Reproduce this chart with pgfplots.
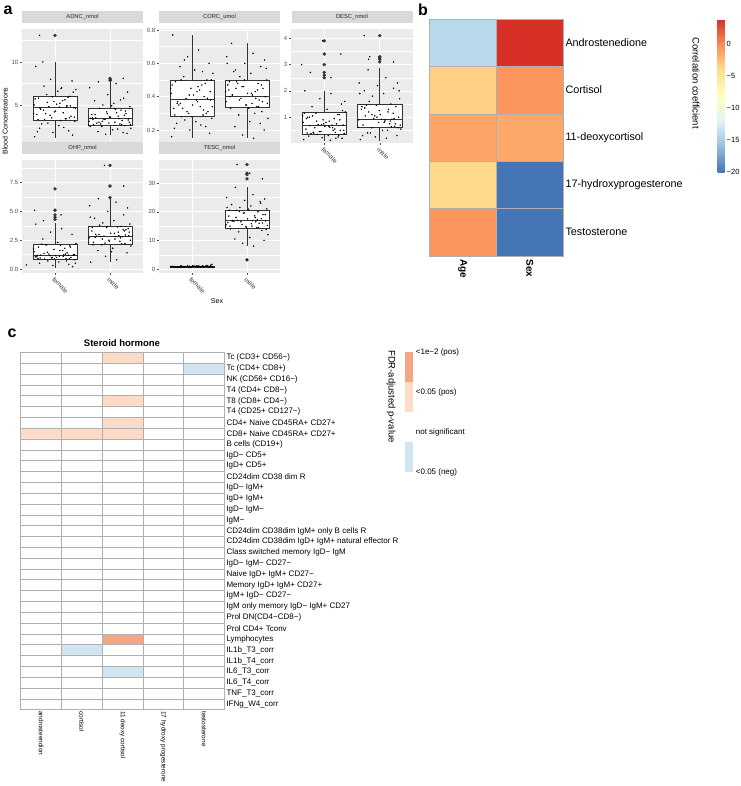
\documentclass[border=0pt]{standalone}
\usepackage{fontspec}
\setmainfont{Liberation Sans}
\usepackage{pgfplots}
\pgfplotsset{compat=1.18}
\usepgfplotslibrary{statistics}

\definecolor{panelbg}{HTML}{EBEBEB}
\definecolor{stripbg}{HTML}{D9D9D9}
\definecolor{tickgrey}{HTML}{4D4D4D}
\definecolor{boxline}{HTML}{333333}
\definecolor{cellline}{HTML}{B0B0B0}
\definecolor{posstrong}{HTML}{F4A582}
\definecolor{posweak}{HTML}{FDDBC7}
\definecolor{negweak}{HTML}{D1E5F0}

\newcommand{\fs}[1]{\fontsize{#1}{#1}\selectfont}

\pgfplotsset{
  facet/.style={
    anchor=north west, scale only axis, width=121pt, height=114pt,
    axis background/.style={fill=panelbg},
    axis line style={draw=none},
    xmin=0.4, xmax=2.6, xtick={1,2}, xticklabels={female,male},
    xtick pos=bottom, ytick pos=left,
    xmajorgrids, ymajorgrids, yminorgrids,
    major grid style={white, line width=0.7pt},
    minor grid style={white, line width=0.35pt},
    tick align=outside, major tick length=2pt, minor tick length=0pt,
    tick style={tickgrey, line width=0.4pt},
    /pgf/number format/assume math mode=true,
    yticklabel style={font=\fs{6}, text=tickgrey, inner sep=1.5pt},
    xticklabel style={font=\fs{6.5}, text=black!75, rotate=-45, anchor=north west, inner sep=1pt},
    title style={at={(0.5,1)}, anchor=south, fill=stripbg, minimum width=121pt,
      minimum height=11.5pt, inner sep=0pt, font=\fs{5.8}, text=black!85},
    boxplot/draw direction=y,
    boxplot/box extend=0.8,
    boxplot/whisker extend=0,
    boxplot/every box/.style={draw=boxline, fill=white, line width=0.5pt},
    boxplot/every whisker/.style={draw=boxline, line width=0.5pt},
    boxplot/every median/.style={draw=boxline, line width=1pt},
  },
  nox/.style={xmajorticks=false, xticklabels={}},
  box/.style={boxline, mark=*, mark size=1.5pt, mark options={fill=boxline, draw=boxline, solid}},
  jit/.style={only marks, mark=*, mark size=0.5pt, black},
}

\begin{document}
\begin{tikzpicture}
\useasboundingbox[fill=white] (0,0) rectangle (740pt,-786pt);

% ---------------- panel a ----------------
\node[font=\bfseries\fs{16}] at (8pt,-10pt) {a};
\node[rotate=90, font=\fs{7}] at (5pt,-121pt) {Blood Concentrations};
\node[font=\fs{7}] at (217pt,-301pt) {Sex};

\begin{axis}[facet, nox, at={(22pt,-29pt)}, title={ADNC\_nmol},
  ymin=0.58, ymax=13.84, ytick={5,10}, minor ytick={2.5,7.5,12.5}]
\addplot[box, boxplot prepared={draw position=1, lower whisker=1.15, lower quartile=3.26,
  median=4.73, upper quartile=5.97, upper whisker=10}] table[row sep=\\, y index=0] {13.1\\};
\addplot[box, boxplot prepared={draw position=2, lower whisker=1.5, lower quartile=2.64,
  median=3.41, upper quartile=4.65, upper whisker=7.75}] table[row sep=\\, y index=0] {7.9\\8.1\\};
\addplot[jit] coordinates {
(0.65,9.5) (1.12,7.0) (0.92,8.0) (1.31,7.8) (0.78,10.0) (1.05,6.6) (1.38,6.8) (0.85,6.2) (1.27,6.0)
(0.70,5.8) (1.18,5.6) (0.98,5.4) (1.09,5.2) (0.62,5.0) (1.22,4.9) (0.89,4.8) (1.34,4.7) (0.74,4.5)
(1.01,4.3) (1.15,4.1) (0.67,3.9) (1.29,3.7) (0.94,3.5) (1.20,3.4) (0.81,3.3) (1.36,3.1) (0.87,2.9)
(1.07,2.6) (0.72,2.3) (1.25,2.0) (0.96,1.8) (1.32,1.5) (0.63,1.3) (1.11,6.9) (0.79,4.4) (0.72,13.1)
(0.69,3.3) (1.24,5.9) (0.83,4.0) (1.03,5.1) (1.35,3.6) (0.73,4.6) (1.14,5.5) (0.91,3.8) (1.28,4.9)
(0.64,5.7) (1.19,3.4) (0.99,4.2) (1.33,6.5) (0.76,2.8) (1.08,4.75) (0.86,5.3) (1.26,3.5) (0.61,4.0)
(1.16,2.4) (0.95,5.95) (1.37,4.6) (0.80,7.2) (1.10,3.2) (0.68,1.9) (1.21,4.85)
(1.79,7.7) (2.11,7.5) (1.63,7.0) (2.32,6.5) (1.96,6.2) (2.25,5.8) (1.72,5.5) (2.07,5.2) (1.87,5.0)
(2.36,4.8) (1.81,4.6) (2.20,4.4) (1.94,4.2) (2.29,4.0) (1.67,3.9) (2.15,3.7) (2.01,3.6) (1.74,3.5)
(2.34,3.4) (1.89,3.3) (2.22,3.2) (1.62,3.1) (2.09,3.0) (1.98,2.9) (2.18,2.8) (1.70,2.7) (2.27,2.6)
(1.85,2.5) (2.38,2.3) (2.05,2.1) (1.78,1.9) (2.31,1.7) (1.92,1.6) (2.12,4.1) (1.65,3.45) (2.24,8.1) (2.02,7.9)
(2.21,2.7) (1.68,3.5) (2.10,4.5) (1.80,3.0) (2.37,2.75) (1.95,4.0) (2.16,3.4) (1.61,2.65) (2.26,3.8)
(1.86,3.1) (2.08,4.6) (1.76,2.9) (2.33,3.25) (1.99,3.6) (2.19,5.6) (1.64,2.5) (2.28,4.3) (1.91,3.35)
(2.14,2.2) (1.73,3.9) (2.35,3.0) (2.03,4.9) (1.83,2.8) (2.24,1.8) (1.69,3.3)
};
\end{axis}

\begin{axis}[facet, nox, at={(159pt,-29pt)}, title={CORC\_umol},
  ymin=0.122, ymax=0.806, ytick={0.2,0.4,0.6,0.8}, yticklabels={0.2,0.4,0.6,0.8},
  minor ytick={0.3,0.5,0.7}]
\addplot[box, boxplot prepared={draw position=1, lower whisker=0.15, lower quartile=0.28,
  median=0.385, upper quartile=0.5, upper whisker=0.77}] coordinates {};
\addplot[box, boxplot prepared={draw position=2, lower whisker=0.15, lower quartile=0.335,
  median=0.40, upper quartile=0.5, upper whisker=0.72}] coordinates {};
\addplot[jit] coordinates {
(0.65,0.77) (1.12,0.68) (0.92,0.64) (1.31,0.60) (0.78,0.58) (1.05,0.56) (1.38,0.54) (0.85,0.52)
(1.27,0.50) (0.70,0.49) (1.18,0.47) (0.98,0.45) (1.09,0.43) (0.62,0.42) (1.22,0.40) (0.89,0.39)
(1.34,0.38) (0.74,0.37) (1.01,0.35) (1.15,0.34) (0.67,0.33) (1.29,0.31) (0.94,0.30) (1.20,0.29)
(0.81,0.28) (1.36,0.27) (0.87,0.26) (1.07,0.25) (0.72,0.24) (1.25,0.22) (0.96,0.20) (1.32,0.18)
(0.63,0.16) (1.11,0.46) (0.79,0.36)
(0.69,0.29) (1.24,0.48) (0.83,0.33) (1.03,0.41) (1.35,0.50) (0.73,0.36) (1.14,0.44) (0.91,0.31)
(1.28,0.39) (0.64,0.47) (1.19,0.55) (0.99,0.28) (1.33,0.43) (0.76,0.35) (1.08,0.38) (0.86,0.62)
(1.26,0.30) (0.61,0.45) (1.16,0.23) (0.95,0.41) (1.37,0.34) (0.80,0.50) (1.10,0.37) (0.68,0.21) (1.21,0.32)
(1.79,0.56) (2.11,0.66) (1.63,0.64) (2.32,0.62) (1.96,0.60) (2.25,0.58) (1.72,0.72) (2.07,0.54)
(1.87,0.52) (2.36,0.50) (1.81,0.49) (2.20,0.48) (1.94,0.46) (2.29,0.45) (1.67,0.44) (2.15,0.43)
(2.01,0.42) (1.74,0.41) (2.34,0.40) (1.89,0.39) (2.22,0.38) (1.62,0.37) (2.09,0.36) (1.98,0.35)
(2.18,0.34) (1.70,0.33) (2.27,0.31) (1.85,0.29) (2.38,0.27) (2.05,0.25) (1.78,0.22) (2.31,0.20)
(1.92,0.17) (2.12,0.15) (1.65,0.47)
(2.21,0.34) (1.68,0.49) (2.10,0.41) (1.80,0.45) (2.37,0.36) (1.95,0.50) (2.16,0.39) (1.61,0.43)
(2.26,0.47) (1.86,0.38) (2.08,0.42) (1.76,0.55) (2.33,0.40) (1.99,0.35) (2.19,0.44) (1.64,0.60)
(2.28,0.37) (1.91,0.46) (2.14,0.30) (1.73,0.41) (2.35,0.57) (2.03,0.33) (1.83,0.48) (2.24,0.24) (1.69,0.40)
};
\end{axis}

\begin{axis}[facet, at={(291pt,-29pt)}, width=122pt, title={DESC\_nmol},
  ymin=0.02, ymax=4.35, ytick={1,2,3,4}, minor ytick={0.5,1.5,2.5,3.5}]
\addplot[box, boxplot prepared={draw position=1, lower whisker=0.1, lower quartile=0.37,
  median=0.70, upper quartile=1.18, upper whisker=2.0}] table[row sep=\\, y index=0]
  {2.5\\2.6\\2.7\\3.0\\3.4\\3.9\\};
\addplot[box, boxplot prepared={draw position=2, lower whisker=0.1, lower quartile=0.6,
  median=0.92, upper quartile=1.49, upper whisker=2.85}] table[row sep=\\, y index=0]
  {3.1\\3.2\\3.25\\3.3\\4.1\\};
\addplot[jit] coordinates {
(0.65,2.0) (1.12,1.9) (0.92,1.7) (1.31,1.5) (0.78,1.4) (1.05,1.3) (1.38,1.2) (0.85,1.15) (1.27,1.1)
(0.70,1.0) (1.18,0.95) (0.98,0.9) (1.09,0.85) (0.62,0.8) (1.22,0.75) (0.89,0.72) (1.34,0.7) (0.74,0.68)
(1.01,0.65) (1.15,0.6) (0.67,0.55) (1.29,0.5) (0.94,0.45) (1.20,0.42) (0.81,0.4) (1.36,0.38) (0.87,0.35)
(1.07,0.3) (0.72,0.28) (1.25,0.25) (0.96,0.22) (1.32,0.2) (0.63,0.15) (1.11,0.12) (0.79,1.05)
(0.59,3.0) (0.97,3.9) (0.75,2.7) (1.12,2.5) (1.30,3.4)
(0.69,0.4) (1.24,1.1) (0.83,0.6) (1.03,0.8) (1.35,0.5) (0.73,1.0) (1.14,0.7) (0.91,0.45) (1.28,0.9)
(0.64,1.15) (1.19,0.55) (0.99,0.75) (1.33,1.25) (0.76,0.38) (1.08,0.65) (0.86,0.85) (1.26,0.3)
(0.61,1.05) (1.16,0.5) (0.95,0.72) (1.37,1.6) (0.80,0.42) (1.10,0.62) (0.68,0.95) (1.21,0.2)
(1.79,2.8) (2.11,2.5) (1.63,2.3) (2.32,2.3) (1.96,2.2) (2.25,2.1) (1.72,2.0) (2.07,1.9) (1.87,1.8)
(2.36,1.7) (1.81,1.6) (2.20,1.5) (1.94,1.45) (2.29,1.4) (1.67,1.3) (2.15,1.2) (2.01,1.1) (1.74,1.05)
(2.34,1.0) (1.89,0.95) (2.22,0.92) (1.62,0.9) (2.09,0.85) (1.98,0.8) (2.18,0.75) (1.70,0.7) (2.27,0.65)
(1.85,0.6) (2.38,0.55) (2.05,0.5) (1.78,0.4) (2.31,0.3) (1.92,0.25) (2.12,0.2) (1.65,0.15)
(1.72,4.1) (1.82,3.3) (1.80,3.2) (2.25,3.1)
(2.21,0.65) (1.68,1.4) (2.10,0.9) (1.80,1.2) (2.37,0.7) (1.95,1.0) (2.16,1.3) (1.61,0.62) (2.26,0.95)
(1.86,1.1) (2.08,0.8) (1.76,1.45) (2.33,0.6) (1.99,1.25) (2.19,0.85) (1.64,1.9) (2.28,0.75)
(1.91,1.05) (2.14,0.5) (1.73,1.35) (2.35,2.0) (2.03,0.92) (1.83,0.4) (2.24,1.15) (1.69,0.3)
};
\end{axis}

\begin{axis}[facet, at={(22pt,-160pt)}, height=113pt, title={OHP\_nmol},
  ymin=-0.35, ymax=9.46, ytick={0,2.5,5,7.5}, yticklabels={0.0,2.5,5.0,7.5},
  minor ytick={1.25,3.75,6.25,8.75}]
\addplot[box, boxplot prepared={draw position=1, lower whisker=0.1, lower quartile=0.86,
  median=1.2, upper quartile=2.16, upper whisker=3.95}] table[row sep=\\, y index=0]
  {4.3\\4.5\\4.7\\5.1\\6.95\\};
\addplot[box, boxplot prepared={draw position=2, lower whisker=0.63, lower quartile=2.16,
  median=2.83, upper quartile=3.72, upper whisker=6.2}] table[row sep=\\, y index=0]
  {6.2\\7.2\\9.0\\};
\addplot[jit] coordinates {
(0.65,3.9) (1.12,3.5) (0.92,3.2) (1.31,3.0) (0.78,2.6) (1.05,2.3) (1.38,2.2) (0.85,2.1) (1.27,2.0)
(0.70,1.9) (1.18,1.8) (0.98,1.7) (1.09,1.6) (0.62,1.5) (1.22,1.4) (0.89,1.3) (1.34,1.25) (0.74,1.2)
(1.01,1.15) (1.15,1.1) (0.67,1.05) (1.29,1.0) (0.94,0.95) (1.20,0.9) (0.81,0.85) (1.36,0.8) (0.87,0.7)
(1.07,0.6) (0.72,0.5) (1.25,0.4) (0.96,0.3) (1.32,0.2) (0.63,5.1) (1.11,4.7) (0.79,4.2) (0.48,0.35)
(0.69,0.9) (1.24,1.2) (0.83,2.1) (1.03,1.0) (1.35,1.25) (0.73,0.95) (1.14,1.6) (0.91,1.15) (1.28,1.9)
(0.64,1.05) (1.19,1.3) (0.99,0.9) (1.33,1.2) (0.76,2.15) (1.08,1.1) (0.86,1.45) (1.26,0.88)
(0.61,1.75) (1.16,1.22) (0.95,1.0) (1.37,0.5) (0.80,1.35) (1.10,2.05) (0.68,1.18) (1.21,0.7)
(1.79,6.1) (2.11,5.8) (1.63,5.5) (2.32,5.3) (1.96,5.0) (2.25,4.7) (1.72,4.4) (2.07,4.2) (1.87,4.0)
(2.36,3.9) (1.81,3.8) (2.20,3.7) (1.94,3.6) (2.29,3.4) (1.67,3.3) (2.15,3.2) (2.01,3.1) (1.74,3.0)
(2.34,2.9) (1.89,2.85) (2.22,2.8) (1.62,2.7) (2.09,2.6) (1.98,2.5) (2.18,2.4) (1.70,2.3) (2.27,2.2)
(1.85,2.1) (2.38,2.0) (2.05,1.8) (1.78,1.6) (2.31,1.4) (1.92,1.1) (2.12,0.8) (1.65,0.6)
(2.25,7.2) (1.90,9.0)
(2.21,2.2) (1.68,3.6) (2.10,2.8) (1.80,3.0) (2.37,2.5) (1.95,3.7) (2.16,2.9) (1.61,2.3) (2.26,3.3)
(1.86,2.6) (2.08,3.1) (1.76,2.85) (2.33,3.5) (1.99,2.4) (2.19,2.7) (1.64,4.5) (2.28,2.95)
(1.91,2.25) (2.14,3.65) (1.73,2.75) (2.35,3.2) (2.03,1.5) (1.83,2.82) (2.24,3.4) (1.69,2.1)
};
\end{axis}

\begin{axis}[facet, at={(159pt,-160pt)}, height=113pt, title={TESC\_nmol},
  ymin=-1.4, ymax=38.1, ytick={0,10,20,30}, minor ytick={5,15,25,35}]
\addplot[box, boxplot prepared={draw position=1, lower whisker=0.3, lower quartile=0.6,
  median=0.8, upper quartile=1.0, upper whisker=1.5}] coordinates {};
\addplot[box, boxplot prepared={draw position=2, lower whisker=7.9, lower quartile=14.3,
  median=16.8, upper quartile=20.7, upper whisker=28.5}] table[row sep=\\, y index=0]
  {3.2\\31.5\\33.0\\33.5\\36.5\\};
\addplot[jit] coordinates {
(0.65,0.9) (1.12,0.7) (0.92,1.1) (1.31,0.6) (0.78,0.8) (1.05,1.0) (1.38,0.5) (0.85,0.9) (1.27,1.2)
(0.70,0.7) (1.18,0.8) (0.98,0.6) (1.09,1.0) (0.62,0.9) (1.22,0.75) (0.89,0.85) (1.34,1.3) (0.74,0.65)
(1.01,0.95) (1.15,0.8) (0.67,0.7) (1.29,1.05) (0.94,0.55) (1.20,0.9) (0.81,0.8) (1.36,1.6) (0.87,0.75)
(1.07,0.85) (0.72,0.6) (1.25,1.0) (0.96,0.7) (1.32,0.9) (0.63,0.8) (1.11,1.1) (0.79,0.65)
(0.69,0.8) (1.24,0.9) (0.83,0.7) (1.03,1.0) (1.35,0.85) (0.73,0.6) (1.14,0.95) (0.91,0.75) (1.28,0.9)
(0.64,0.8) (1.19,1.1) (0.99,0.7) (1.33,0.85) (0.76,0.65) (1.08,1.0) (0.86,0.8) (1.26,0.9)
(0.61,0.75) (1.16,0.6) (0.95,0.95) (1.37,0.8) (0.80,1.2) (1.10,0.7) (0.68,0.85) (1.21,0.9)
(1.79,28.5) (2.11,26) (1.63,25) (2.32,24.5) (1.96,24) (2.25,23) (1.72,22.5) (2.07,22) (1.87,21.5)
(2.36,21) (1.81,20.5) (2.20,20) (1.94,19.5) (2.29,19) (1.67,18.5) (2.15,18) (2.01,17.5) (1.74,17)
(2.34,16.8) (1.89,16.5) (2.22,16) (1.62,15.5) (2.09,15) (1.98,14.8) (2.18,14.5) (1.70,14) (2.27,13.5)
(1.85,13) (2.38,12) (2.05,11) (1.78,10.5) (2.31,10) (1.92,9) (2.12,8) (1.65,16.2)
(1.82,36.5) (2.28,31.5) (2.05,33.5) (2.00,3.2)
(2.21,14.5) (1.68,20.5) (2.10,16.9) (1.80,18) (2.37,15.2) (1.95,19.7) (2.16,16.5) (1.61,14.8)
(2.26,17.6) (1.86,20.1) (2.08,15.8) (1.76,16.7) (2.33,19) (1.99,14.4) (2.19,17.2) (1.64,21.5)
(2.28,16.1) (1.91,15.5) (2.14,18.6) (1.73,16.8) (2.35,13.8) (2.03,20.9) (1.83,17) (2.24,23.5) (1.69,15)
};
\end{axis}

% ---------------- panel b ----------------
\node[font=\bfseries\fs{16}] at (423pt,-10pt) {b};
\begin{axis}[at={(429.3pt,-19pt)}, anchor=north west, scale only axis, width=134pt, height=237pt,
  xmin=-0.5, xmax=1.5, ymin=-0.5, ymax=4.5, y dir=reverse, axis on top,
  axis line style={cellline, line width=0.5pt},
  xtick={0,1}, xticklabels={Age,Sex}, ytick={0,1,2,3,4},
  yticklabels={Androstenedione,Cortisol,11-deoxycortisol,17-hydroxyprogesterone,Testosterone},
  yticklabel pos=right, major tick length=0pt, minor tick length=0pt,
  minor xtick={0.5}, minor ytick={0.5,1.5,2.5,3.5}, xminorgrids, yminorgrids,
  minor grid style={cellline, line width=0.5pt},
  xticklabel style={rotate=-90, anchor=west, font=\bfseries\fs{10}},
  yticklabel style={anchor=west, font=\fs{10.8}, inner sep=2pt},
  colormap={rdylbu}{rgb255(0)=(69,117,180) rgb255(40)=(145,191,219) rgb255(79)=(224,243,248)
    rgb255(119)=(255,255,191) rgb255(159)=(254,224,144) rgb255(199)=(252,141,89) rgb255(239)=(215,48,39)},
  point meta min=-20, point meta max=3.9,
  colorbar right,
  colorbar style={at={(parent axis.north east)}, anchor=north west, xshift=145.7pt,
    scale only axis, width=7pt, height=153.3pt, y dir=normal, axis on top=false,
    axis line style={draw=none}, ytick={-20,-15,-10,-5,0}, yticklabels={−20,−15,−10,−5,0},
    yticklabel style={font=\fs{7.5}, anchor=west, inner sep=2pt}, major tick length=0pt,
    xminorgrids=false, yminorgrids=false}
]
\addplot[matrix plot*, mesh/cols=2, point meta=explicit] coordinates {
(0,0) [-14] (1,0) [3.9]
(0,1) [-3.3] (1,1) [-0.5]
(0,2) [-1.2] (1,2) [-1.4]
(0,3) [-3.75] (1,3) [-20]
(0,4) [-0.5] (1,4) [-20]
};
\end{axis}
\node[rotate=-90, font=\fs{9.5}] at (696pt,-83pt) {Correlation coefficient};

% ---------------- panel c ----------------
\node[font=\bfseries\fs{16}] at (12pt,-333pt) {c};
\node[font=\bfseries\fs{9.5}] at (122pt,-343pt) {Steroid hormone};
\begin{axis}[at={(20.7pt,-352.3pt)}, anchor=north west, scale only axis, width=203.6pt, height=357.4pt,
  xmin=-0.5, xmax=4.5, ymin=-0.5, ymax=32.5, y dir=reverse, axis on top,
  axis line style={cellline, line width=0.5pt},
  xtick={0,1,2,3,4},
  xticklabels={androsteendion,cortisol,11 deoxy cortisol,17 hydroxy progesterone,testosterone},
  ytick={0,1,...,32},
  yticklabels={Tc (CD3+ CD56−),Tc (CD4+ CD8+),NK (CD56+ CD16−),T4 (CD4+ CD8−),T8 (CD8+ CD4−),
    T4 (CD25+ CD127−),CD4+ Naive CD45RA+ CD27+,CD8+ Naive CD45RA+ CD27+,B cells (CD19+),
    IgD− CD5+,IgD+ CD5+,CD24dim CD38 dim R,IgD− IgM+,IgD+ IgM+,IgD− IgM−,IgM−,
    CD24dim CD38dim IgM+ only B cells R,CD24dim CD38dim IgD+ IgM+ natural effector R,
    Class switched memory IgD− IgM,IgD− IgM− CD27−,Naive IgD+ IgM+ CD27−,
    Memory IgD+ IgM+ CD27+,IgM+ IgD− CD27−,IgM only memory IgD− IgM+ CD27,
    Prol DN(CD4−CD8−),Prol CD4+ Tconv,Lymphocytes,IL1b\_T3\_corr,IL1b\_T4\_corr,
    IL6\_T3\_corr,IL6\_T4\_corr,TNF\_T3\_corr,IFNg\_W4\_corr},
  yticklabel pos=right, major tick length=0pt, minor tick length=0pt,
  minor xtick={0.5,1.5,2.5,3.5}, minor ytick={0.5,1.5,...,31.5}, xminorgrids, yminorgrids,
  minor grid style={cellline, line width=0.5pt},
  xticklabel style={rotate=-90, anchor=west, font=\fs{6.4}, inner sep=1.5pt},
  yticklabel style={anchor=west, font=\fs{8}, inner sep=2pt},
  colormap={fdr}{rgb255(0)=(209,229,240) rgb255(1)=(255,255,255) rgb255(2)=(253,219,199) rgb255(3)=(244,165,130)},
  point meta min=-1, point meta max=2]
\addplot[matrix plot*, mesh/cols=5, point meta=explicit] coordinates {
(0,0)[0] (1,0)[0] (2,0)[1] (3,0)[0] (4,0)[0]
(0,1)[0] (1,1)[0] (2,1)[0] (3,1)[0] (4,1)[-1]
(0,2)[0] (1,2)[0] (2,2)[0] (3,2)[0] (4,2)[0]
(0,3)[0] (1,3)[0] (2,3)[0] (3,3)[0] (4,3)[0]
(0,4)[0] (1,4)[0] (2,4)[1] (3,4)[0] (4,4)[0]
(0,5)[0] (1,5)[0] (2,5)[0] (3,5)[0] (4,5)[0]
(0,6)[0] (1,6)[0] (2,6)[1] (3,6)[0] (4,6)[0]
(0,7)[1] (1,7)[1] (2,7)[1] (3,7)[0] (4,7)[0]
(0,8)[0] (1,8)[0] (2,8)[0] (3,8)[0] (4,8)[0]
(0,9)[0] (1,9)[0] (2,9)[0] (3,9)[0] (4,9)[0]
(0,10)[0] (1,10)[0] (2,10)[0] (3,10)[0] (4,10)[0]
(0,11)[0] (1,11)[0] (2,11)[0] (3,11)[0] (4,11)[0]
(0,12)[0] (1,12)[0] (2,12)[0] (3,12)[0] (4,12)[0]
(0,13)[0] (1,13)[0] (2,13)[0] (3,13)[0] (4,13)[0]
(0,14)[0] (1,14)[0] (2,14)[0] (3,14)[0] (4,14)[0]
(0,15)[0] (1,15)[0] (2,15)[0] (3,15)[0] (4,15)[0]
(0,16)[0] (1,16)[0] (2,16)[0] (3,16)[0] (4,16)[0]
(0,17)[0] (1,17)[0] (2,17)[0] (3,17)[0] (4,17)[0]
(0,18)[0] (1,18)[0] (2,18)[0] (3,18)[0] (4,18)[0]
(0,19)[0] (1,19)[0] (2,19)[0] (3,19)[0] (4,19)[0]
(0,20)[0] (1,20)[0] (2,20)[0] (3,20)[0] (4,20)[0]
(0,21)[0] (1,21)[0] (2,21)[0] (3,21)[0] (4,21)[0]
(0,22)[0] (1,22)[0] (2,22)[0] (3,22)[0] (4,22)[0]
(0,23)[0] (1,23)[0] (2,23)[0] (3,23)[0] (4,23)[0]
(0,24)[0] (1,24)[0] (2,24)[0] (3,24)[0] (4,24)[0]
(0,25)[0] (1,25)[0] (2,25)[0] (3,25)[0] (4,25)[0]
(0,26)[0] (1,26)[0] (2,26)[2] (3,26)[0] (4,26)[0]
(0,27)[0] (1,27)[-1] (2,27)[0] (3,27)[0] (4,27)[0]
(0,28)[0] (1,28)[0] (2,28)[0] (3,28)[0] (4,28)[0]
(0,29)[0] (1,29)[0] (2,29)[-1] (3,29)[0] (4,29)[0]
(0,30)[0] (1,30)[0] (2,30)[0] (3,30)[0] (4,30)[0]
(0,31)[0] (1,31)[0] (2,31)[0] (3,31)[0] (4,31)[0]
(0,32)[0] (1,32)[0] (2,32)[0] (3,32)[0] (4,32)[0]
};
\end{axis}

% legend of panel c
\node[rotate=-90, font=\fs{9.5}] at (391pt,-396.5pt) {FDR-adjusted p-value};
\fill[posstrong] (404.7pt,-351.7pt) rectangle (412.7pt,-381.7pt);
\fill[posweak] (404.7pt,-381.7pt) rectangle (412.7pt,-412.3pt);
\fill[negweak] (404.7pt,-442.3pt) rectangle (412.7pt,-472.3pt);
\begin{scope}[every node/.style={anchor=west, font=\fs{8}, inner sep=0pt}]
\node at (415.7pt,-352.3pt) {<1e−2 (pos)};
\node at (415.7pt,-392.7pt) {<0.05 (pos)};
\node at (415.7pt,-432.7pt) {not significant};
\node at (415.7pt,-472.7pt) {<0.05 (neg)};
\end{scope}
\end{tikzpicture}
\end{document}
